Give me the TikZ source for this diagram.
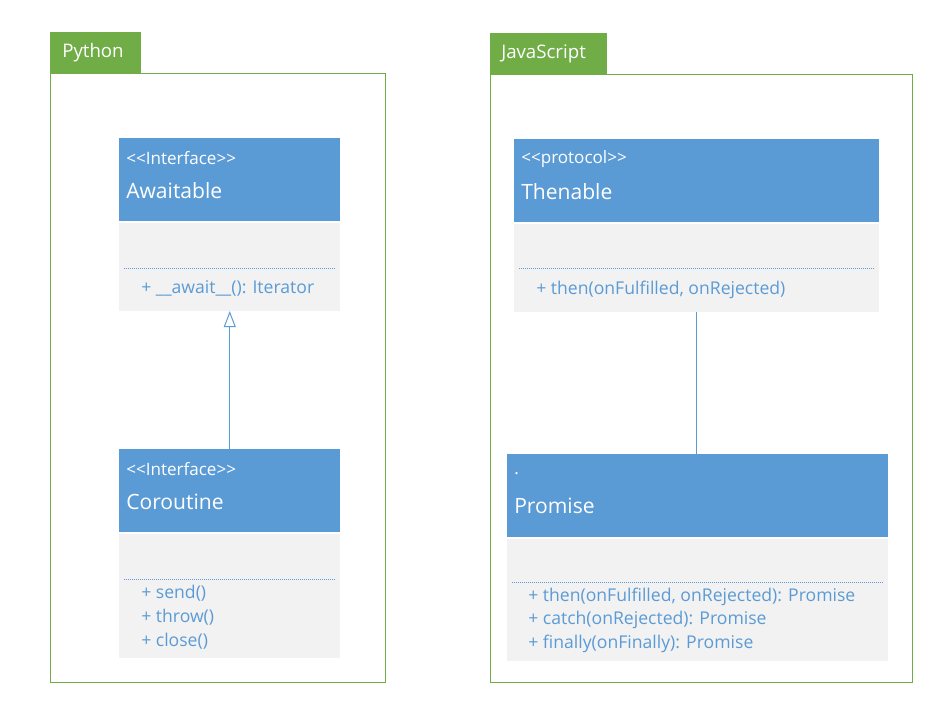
\documentclass[tikz,border=0pt]{standalone}
\usepackage{fontspec}
\setmainfont{Open Sans}
\usetikzlibrary{positioning,calc,arrows.meta}
\definecolor{umlblue}{HTML}{5B9BD5}
\definecolor{umlgrey}{HTML}{F2F2F2}
\definecolor{pkggreen}{HTML}{70AD47}

\begin{document}
\begin{tikzpicture}[x=0.75pt,y=-0.75pt,
    pkg/.style={draw=pkggreen, line width=0.75pt, anchor=north west, inner sep=0pt},
    tab/.style={fill=pkggreen, anchor=north west, inner sep=0pt, minimum height=41*0.75pt},
    tabtext/.style={text=white, anchor=west, inner sep=0pt, font=\fontsize{14}{16}\selectfont},
    head/.style={fill=umlblue, anchor=north west, inner sep=0pt, minimum height=83*0.75pt},
    body/.style={fill=umlgrey, inner sep=0pt},
    stereo/.style={text=white, anchor=west, inner sep=0pt, font=\fontsize{12.8}{14}\selectfont},
    cname/.style={text=white, anchor=west, inner sep=0pt, font=\fontsize{15.8}{18}\selectfont},
    member/.style={text=umlblue, anchor=west, inner sep=0pt, font=\fontsize{13.2}{15}\selectfont},
    sep/.style={draw=umlblue, densely dotted, line width=0.5pt}]

    \useasboundingbox (0,0) rectangle (951,717);

    % packages
    \node[pkg, minimum width=335*0.75pt, minimum height=609*0.75pt] (pyframe) at (50,73) {};
    \node[tab, minimum width=91*0.75pt] (pytab) at (50,32) {};
    \node[tabtext] (pylabel) at ($(pytab.west)+(12,0)$) {Python};

    \node[pkg, minimum width=422*0.75pt, minimum height=608*0.75pt] (jsframe) at (490,74) {};
    \node[tab, minimum width=117*0.75pt] (jstab) at (490,33) {};
    \node[tabtext] (jslabel) at ($(jstab.west)+(11,0)$) {JavaScript};

    % Python classes
    \node[head, minimum width=221*0.75pt] (awhead) at (119,138) {};
    \node[body, below=0.75pt of awhead, minimum width=221*0.75pt, minimum height=88*0.75pt] (awbody) {};
    \node[stereo] (awstereo) at ($(awhead.north west)+(7,20)$) {<{}<Interface>{}>};
    \node[cname] (awname) at ($(awhead.north west)+(7,53)$) {Awaitable};
    \draw[sep] ($(awbody.north west)+(5,46)$) -- ($(awbody.north east)+(-5,46)$);
    \node[member] (aw1) at ($(awbody.north west)+(22,66)$) {+ \_\_await\_\_(): Iterator};

    \node[head, minimum width=221*0.75pt] (cohead) at (119,449) {};
    \node[body, below=0.75pt of cohead, minimum width=221*0.75pt, minimum height=124*0.75pt] (cobody) {};
    \node[stereo] (costereo) at ($(cohead.north west)+(7,20)$) {<{}<Interface>{}>};
    \node[cname] (coname) at ($(cohead.north west)+(7,53)$) {Coroutine};
    \draw[sep] ($(cobody.north west)+(5,46)$) -- ($(cobody.north east)+(-5,46)$);
    \foreach \m [count=\i] in {send(), throw(), close()}{
        \node[member] (co\i) at ($(cobody.north west)+(22,36+24*\i)$) {+ \m};
    }

    \draw[umlblue, line width=0.75pt, -{Triangle[open, length=12pt, width=9pt]}] (cohead.north) -- (awbody.south);

    % JavaScript classes
    \node[head, minimum width=365*0.75pt] (thhead) at (514,139) {};
    \node[body, below=0.75pt of thhead, minimum width=365*0.75pt, minimum height=88*0.75pt] (thbody) {};
    \node[stereo] (thstereo) at ($(thhead.north west)+(7,20)$) {<{}<protocol>{}>};
    \node[cname] (thname) at ($(thhead.north west)+(7,53)$) {Thenable};
    \draw[sep] ($(thbody.north west)+(5,45)$) -- ($(thbody.north east)+(-5,45)$);
    \node[member] (th1) at ($(thbody.north west)+(22,66)$) {+ then(onFulfilled, onRejected)};

    \node[head, minimum width=381*0.75pt] (prhead) at (507,454) {};
    \node[body, below=0.75pt of prhead, minimum width=381*0.75pt, minimum height=122*0.75pt] (prbody) {};
    \node[stereo] (prstereo) at ($(prhead.north west)+(7,20)$) {.};
    \node[cname] (prname) at ($(prhead.north west)+(7,52)$) {Promise};
    \draw[sep] ($(prbody.north west)+(5,44)$) -- ($(prbody.north east)+(-5,44)$);
    \foreach \m [count=\i] in {{then(onFulfilled, onRejected): Promise}, {catch(onRejected): Promise}, {finally(onFinally): Promise}}{
        \node[member] (pr\i) at ($(prbody.north west)+(21,34.5+23.5*\i)$) {+ \m};
    }

    \draw[umlblue, line width=0.75pt] (thbody.south) -- (thbody.south |- prhead.north);

\end{tikzpicture}
\end{document}
